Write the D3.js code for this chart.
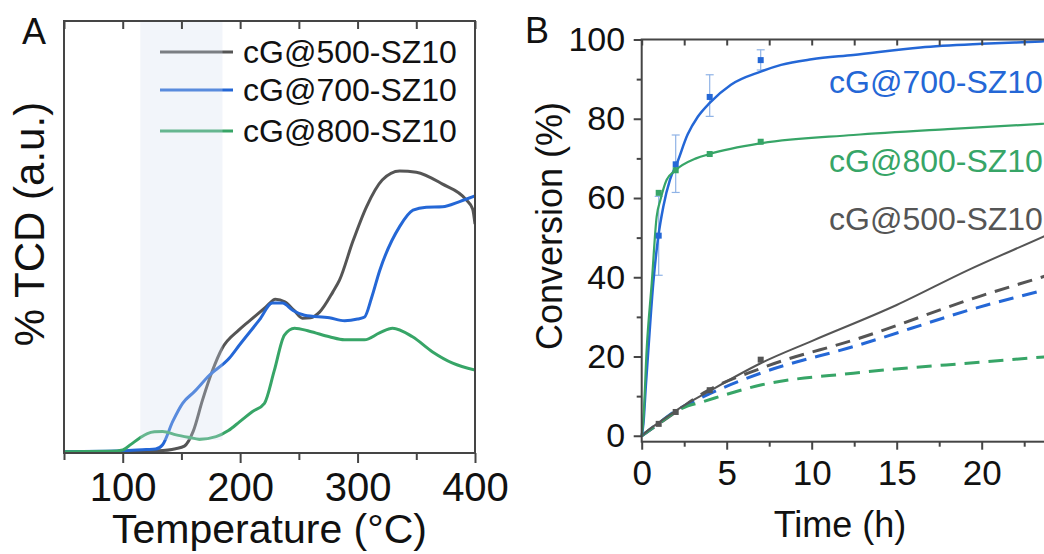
<!DOCTYPE html>
<html lang="en">
<head>
    <meta charset="UTF-8">
    <title>TCD and conversion</title>
    <script src="https://d3js.org/d3.v7.min.js"></script>
    <style>
        body { margin: 0; background: #fff; }
        text { font-family: "Liberation Sans", Arial, sans-serif; }
    </style>
</head>
<body>
<script>
    // ---- Panel A : TCD profiles (temperature °C, signal a.u.) ----
    const seriesNames = ["cG@500-SZ10", "cG@700-SZ10", "cG@800-SZ10"];
    const colors = ["#555555", "#2467d6", "#37a567"];

    const tcd500 = [[50,0.2],[100,0.3],[130,0.5],[145,1.0],[152.5,1.6],[160,5],[168,12.3],[176.6,19.2],[184.6,24.2],[199,28.5],[212,31.5],[222,33.8],[230,35.6],[238,35],[246,33],[253,31.2],[260,31.3],[267.6,32.6],[279,37.3],[284.6,40],[296,49],[307.6,57],[321,63.2],[335.8,65.3],[350,65],[372,62.3],[392.6,58.6],[398,56.5],[400,53]];
    const tcd700 = [[50,0.3],[100,0.5],[120,0.8],[128,0.9],[134,1.9],[142.6,7.3],[151,11.5],[161,14.2],[173.8,18],[190.9,22],[199.4,25],[216.4,30.8],[227.5,34.7],[236,34.7],[245,33],[254.9,31.9],[276,31.3],[289,30.6],[300,31],[306,31.5],[312,36],[318.8,42.2],[335.8,52.4],[347.2,56.2],[358.5,56.9],[372.4,57],[386.9,58.2],[400,59.5]];
    const tcd800 = [[50,0.3],[90,0.4],[100,0.7],[107,2],[114.2,3.4],[121,4.5],[127,4.9],[134,5],[145.5,4.2],[156.8,3.6],[165.3,3.2],[179.5,3.8],[190,5.2],[199.4,7.2],[210,9.5],[220.7,11.5],[229,19],[237.7,27.3],[246.3,28.9],[259,28.2],[276,26.9],[288.8,26.2],[305.9,26.2],[318.7,27.8],[329.8,28.9],[346.8,26.9],[363.9,23.4],[381,20.8],[400,19.2]];
    const shadeRange = [115, 185];
    const tempTicks = [100, 200, 300, 400];
    const tempMinor = [50, 150, 250, 350];

    // ---- Panel B : conversion vs time ----
    const fit500 = [[0,0],[0.5,1.8],[1,3.3],[2,6.3],[4,11.3],[7,18.3],[10,23.9],[15,33],[19.2,41.8],[23.66,50.3],[25,52.9]];
    const fit700 = [[0,0],[0.1,3],[0.25,13],[0.39,21.6],[0.68,38.5],[0.98,50.4],[1.27,57.8],[1.66,64.6],[2.06,68.6],[2.7,76],[3.3,80.5],[4,84],[5.25,88.6],[7,91.9],[8.2,93.6],[10,95],[12.45,96.1],[16.4,98],[20,98.9],[23.5,99.5],[25,99.8]];
    const fit800 = [[0,0],[0.1,4],[0.29,21.6],[0.59,38.5],[0.88,55.3],[1.1,59.5],[1.47,64.6],[1.96,66.9],[3.2,70],[4,71.1],[7,73.8],[12.45,75.9],[18,77.4],[23.5,78.7],[25,79]];
    const dash500 = [[0,0],[1,3],[2,6],[3.6,10.7],[7,17],[12.8,24.6],[20.1,35.5],[23.66,40.2],[25,42]];
    const dash700 = [[0,0],[1,3.2],[1.9,6],[3.6,9.8],[7,15.8],[12.45,22.5],[20.3,33],[23.66,36.8],[25,38.5]];
    const dash800 = [[0,0],[0.9,2.8],[2.4,7],[3.6,8.6],[7,12.8],[12.45,15.8],[20.3,18.7],[23.66,19.9],[25,20.3]];
    const sampleTimes = [1, 2, 4, 7];
    const pts500 = [3, 6, 11.5, 19.2];
    const pts700 = [50.5, 68.5, 85.5, 94.8];
    const pts800 = [61.3, 67, 71.1, 74.2];
    const err700Low = [40.5, 61.4, 80.6, 92.3];
    const err700High = [60.4, 75.9, 91.1, 97.4];
    const timeTicks = [0, 5, 10, 15, 20];
    const timeMinor = [2.5, 7.5, 12.5, 17.5, 22.5];
    const convTicks = [0, 20, 40, 60, 80, 100];
    const convMinor = [10, 30, 50, 70, 90];

    const width = 1044, height = 554;
    const svg = d3.select("body").append("svg")
        .attr("width", width)
        .attr("height", height);

    const axisColor = "#454545";

    function styleAxis(g, fontSize) {
        g.select(".domain").remove();
        g.selectAll(".tick line").attr("stroke", axisColor).attr("stroke-width", 2);
        g.selectAll(".tick text").attr("fill", "#111").style("font-size", fontSize + "px")
            .style("font-family", "'Liberation Sans', Arial, sans-serif");
    }

    // ================= Panel A =================
    const A = { left: 64, right: 475, top: 21, bottom: 453 };
    const xA = d3.scaleLinear().domain([50, 400]).range([A.left, A.right]);
    const yA = d3.scaleLinear().domain([0, 100]).range([A.bottom, A.top]);

    svg.append("clipPath").attr("id", "clipA")
        .append("rect")
        .attr("x", A.left).attr("y", A.top)
        .attr("width", A.right - A.left).attr("height", A.bottom - A.top);

    const lineA = d3.line()
        .x(d => xA(d[0]))
        .y(d => yA(d[1]))
        .curve(d3.curveMonotoneX);

    const gA = svg.append("g").attr("clip-path", "url(#clipA)");
    [tcd500, tcd700, tcd800].forEach((s, i) => {
        gA.append("path")
            .attr("d", lineA(s))
            .attr("fill", "none")
            .attr("stroke", colors[i])
            .attr("stroke-width", 3)
            .attr("stroke-linejoin", "round");
    });

    // legend
    const legend = svg.append("g");
    const legendY = [52, 90, 131];
    seriesNames.forEach((name, i) => {
        legend.append("line")
            .attr("x1", 160).attr("x2", 233)
            .attr("y1", legendY[i]).attr("y2", legendY[i])
            .attr("stroke", colors[i]).attr("stroke-width", 3);
        legend.append("text")
            .attr("x", 243).attr("y", legendY[i] + 11)
            .style("font-size", "32px")
            .attr("fill", "#111")
            .text(name);
    });

    // shaded temperature window (drawn over the lines, translucent)
    svg.append("rect")
        .attr("x", xA(shadeRange[0]))
        .attr("y", A.top)
        .attr("width", xA(shadeRange[1]) - xA(shadeRange[0]))
        .attr("height", 440 - A.top)
        .attr("fill", "rgb(212,222,238)")
        .attr("fill-opacity", 0.3);

    // axes
    const axA = svg.append("g").attr("transform", `translate(0,${A.bottom})`)
        .call(d3.axisBottom(xA).tickValues(tempTicks).tickSize(10).tickPadding(10));
    styleAxis(axA, 40);
    const axAm = svg.append("g").attr("transform", `translate(0,${A.bottom})`)
        .call(d3.axisBottom(xA).tickValues(tempMinor).tickSize(7).tickFormat(""));
    styleAxis(axAm, 10);
    const axAt = svg.append("g").attr("transform", `translate(0,${A.top})`)
        .call(d3.axisBottom(xA).tickValues(tempTicks.concat(tempMinor)).tickSize(8).tickFormat(""));
    styleAxis(axAt, 10);

    svg.append("rect")
        .attr("x", A.left).attr("y", A.top)
        .attr("width", A.right - A.left).attr("height", A.bottom - A.top)
        .attr("fill", "none").attr("stroke", axisColor).attr("stroke-width", 2);

    svg.append("text")
        .attr("x", (A.left + A.right) / 2).attr("y", 543)
        .attr("text-anchor", "middle")
        .style("font-size", "41px").attr("fill", "#111")
        .text("Temperature (°C)");

    svg.append("text")
        .attr("transform", "translate(44,224) rotate(-90)")
        .attr("text-anchor", "middle")
        .style("font-size", "42px").attr("fill", "#111")
        .text("% TCD (a.u.)");

    svg.append("text")
        .attr("x", 22).attr("y", 44)
        .style("font-size", "36px").attr("fill", "#111")
        .text("A");

    // ================= Panel B =================
    const B = { left: 641.7, top: 39.5, bottom: 441.7 };
    const xB = d3.scaleLinear().domain([0, 25]).range([B.left, B.left + 25 * 17]);
    const yB = d3.scaleLinear().domain([-1.5, 100]).range([B.bottom, B.top]);

    const lineB = d3.line()
        .x(d => xB(d[0]))
        .y(d => yB(d[1]))
        .curve(d3.curveMonotoneX);

    const gB = svg.append("g");

    // dashed series
    [dash500, dash700, dash800].forEach((s, i) => {
        gB.append("path")
            .attr("d", lineB(s))
            .attr("fill", "none")
            .attr("stroke", colors[i])
            .attr("stroke-width", 3)
            .attr("stroke-dasharray", "15,9");
    });

    // error bars (700)
    sampleTimes.forEach((t, i) => {
        const x = xB(t);
        const eb = gB.append("g").attr("stroke", "#8fb3e6").attr("stroke-width", 1.2);
        eb.append("line").attr("x1", x).attr("x2", x)
            .attr("y1", yB(err700Low[i])).attr("y2", yB(err700High[i]));
        [err700Low[i], err700High[i]].forEach(v => {
            eb.append("line").attr("x1", x - 4).attr("x2", x + 4)
                .attr("y1", yB(v)).attr("y2", yB(v));
        });
    });

    // fitted curves
    const fitWidths = [2, 2.5, 2.2];
    [fit500, fit700, fit800].forEach((s, i) => {
        gB.append("path")
            .attr("d", lineB(s))
            .attr("fill", "none")
            .attr("stroke", colors[i])
            .attr("stroke-width", fitWidths[i]);
    });

    // sample points
    [pts500, pts700, pts800].forEach((vals, i) => {
        gB.selectAll(null)
            .data(vals)
            .enter().append("rect")
            .attr("x", (d, j) => xB(sampleTimes[j]) - 3)
            .attr("y", d => yB(d) - 3)
            .attr("width", 6).attr("height", 6)
            .attr("fill", colors[i]);
    });

    // axes
    const axBl = svg.append("g").attr("transform", `translate(${B.left},0)`)
        .call(d3.axisLeft(yB).tickValues(convTicks).tickSize(8).tickPadding(8.5));
    styleAxis(axBl, 34);
    const axBlm = svg.append("g").attr("transform", `translate(${B.left},0)`)
        .call(d3.axisLeft(yB).tickValues(convMinor).tickSize(5).tickFormat(""));
    styleAxis(axBlm, 10);
    const axBb = svg.append("g").attr("transform", `translate(0,${B.bottom})`)
        .call(d3.axisBottom(xB).tickValues(timeTicks).tickSize(8).tickPadding(10.5));
    styleAxis(axBb, 35);
    const axBbm = svg.append("g").attr("transform", `translate(0,${B.bottom})`)
        .call(d3.axisBottom(xB).tickValues(timeMinor).tickSize(5).tickFormat(""));
    styleAxis(axBbm, 10);
    const axBt = svg.append("g").attr("transform", `translate(0,${B.top})`)
        .call(d3.axisBottom(xB).tickValues(timeTicks.concat(timeMinor)).tickSize(6).tickFormat(""));
    styleAxis(axBt, 10);

    svg.append("rect")
        .attr("x", B.left).attr("y", B.top)
        .attr("width", xB(25) - B.left).attr("height", B.bottom - B.top)
        .attr("fill", "none").attr("stroke", axisColor).attr("stroke-width", 2);

    // series labels
    const labelY = [230, 93, 172];
    seriesNames.forEach((name, i) => {
        svg.append("text")
            .attr("x", 829).attr("y", labelY[i])
            .style("font-size", "32px")
            .attr("fill", colors[i])
            .text(name);
    });

    svg.append("text")
        .attr("x", 840).attr("y", 537)
        .attr("text-anchor", "middle")
        .style("font-size", "36px").attr("fill", "#111")
        .text("Time (h)");

    svg.append("text")
        .attr("transform", "translate(562,226) rotate(-90)")
        .attr("text-anchor", "middle")
        .style("font-size", "36px").attr("fill", "#111")
        .text("Conversion (%)");

    svg.append("text")
        .attr("x", 525).attr("y", 43)
        .style("font-size", "36px").attr("fill", "#111")
        .text("B");
</script>
</body>
</html>
